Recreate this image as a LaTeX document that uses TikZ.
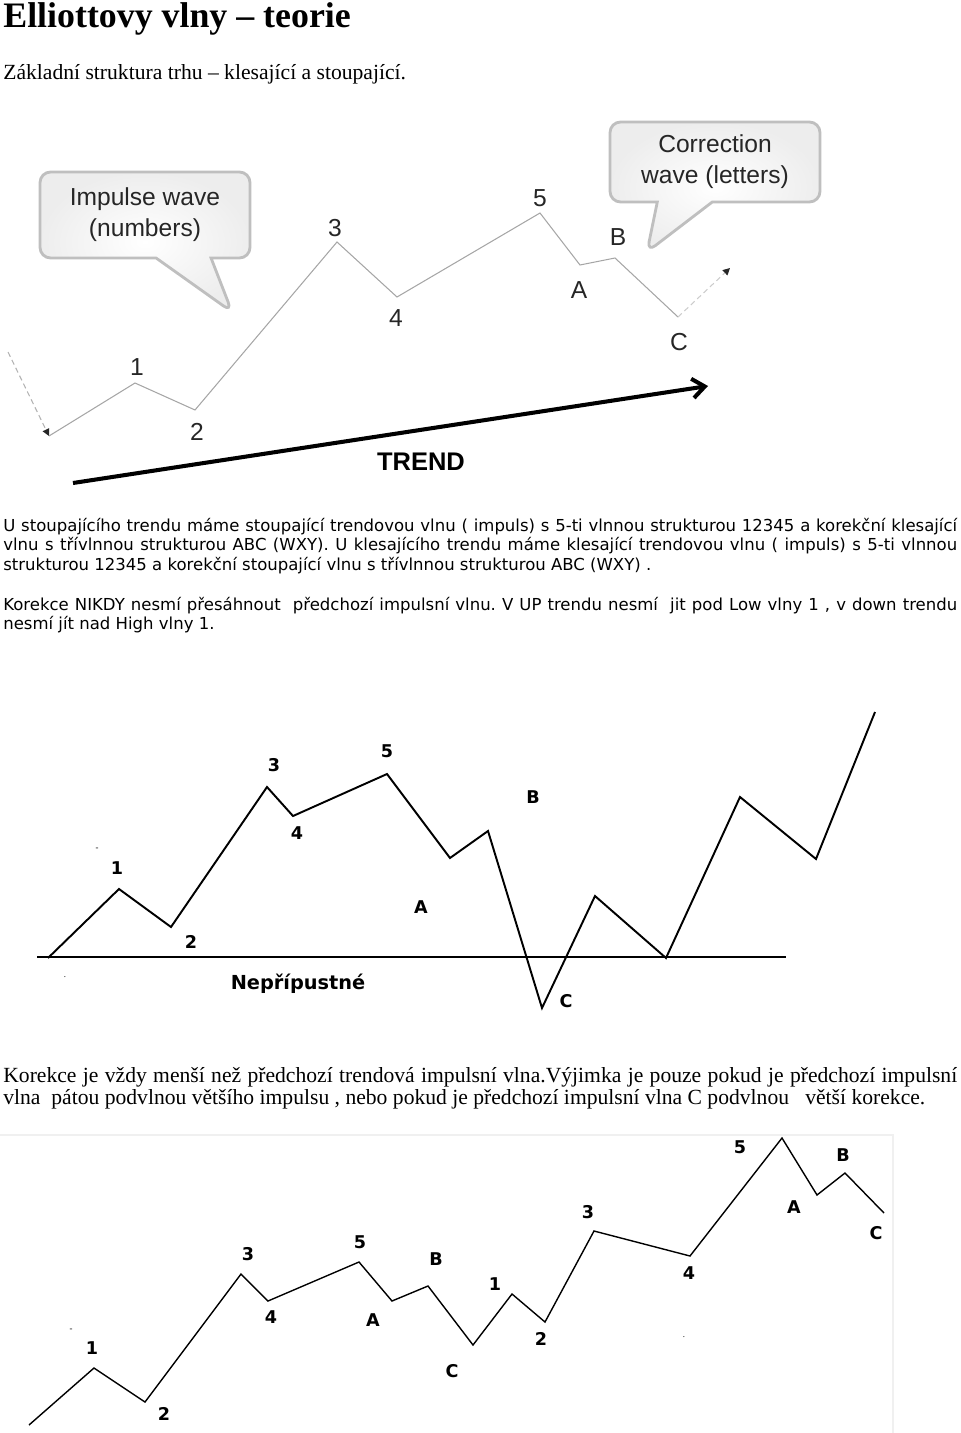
\documentclass[tikz,border=0pt]{standalone}
\usepackage{fontspec}
\setmainfont{Liberation Serif}
\setsansfont{Liberation Sans}
\newfontfamily\chartfont{DejaVu Sans}
\usetikzlibrary{arrows.meta,shapes.callouts,positioning}
\frenchspacing

\begin{document}
\begin{tikzpicture}[
    x=0.02cm, y=-0.02cm,
    every node/.style={inner sep=0pt},
    topwave/.style={gray!70, line width=0.6pt},
    lead/.style={gray!60, line width=0.6pt, dash pattern=on 3pt off 2pt,
      -{Triangle[length=4pt,width=4pt,color=black!85]}},
    toplbl/.style={font=\sffamily\fontsize{14}{16}\selectfont, text=black!85},
    bubble/.style={rectangle callout, rounded corners=6pt, draw=gray!50,
      line width=1.6pt, inner color=white, outer color=gray!14,
      callout pointer width=1.1cm, align=center, text=black!85,
      font=\sffamily\fontsize{14}{17.6}\selectfont,
      minimum width=4.2cm},
    trendarr/.style={line width=2.3pt, -{Straight Barb[length=7pt,width=11pt]}},
    chartwave/.style={line width=1.1pt, line join=miter},
    chartlbl/.style={font=\chartfont\bfseries\fontsize{10}{12}\selectfont},
    bodyserif/.style={font=\fontsize{12.3}{13}\selectfont, text width=19.08cm,
      align=justify, anchor=base west},
    bodysans/.style={font=\chartfont\fontsize{9.4}{11.34}\selectfont,
      text width=19.08cm, align=justify, anchor=base west}
  ]
  \useasboundingbox (0,0) rectangle (960,1433);

  % Heading
  \node[anchor=base west, font=\bfseries\fontsize{20.4}{24}\selectfont]
    (title) at (3,28) {Elliottovy vlny – teorie};
  \node[anchor=base west, font=\fontsize{12.3}{14}\selectfont]
    (subtitle) at (3,80) {Základní struktura trhu – klesající a stoupající.};

  % Top chart: impulse 1-5, correction A-B-C
  \coordinate (s0) at (8,352);
  \coordinate (i0) at (49,436);
  \coordinate (i1) at (135,383);
  \coordinate (i2) at (195,410);
  \coordinate (i3) at (337,242);
  \coordinate (i4) at (397,297);
  \coordinate (i5) at (540,213);
  \coordinate (ia) at (580,265);
  \coordinate (ib) at (615,258);
  \coordinate (ic) at (678,317);
  \coordinate (ie) at (730,268);
  \draw[lead] (s0) -- (i0);
  \draw[topwave] (i0) -- (i1) -- (i2) -- (i3) -- (i4) -- (i5)
    -- (ia) -- (ib) -- (ic);
  \draw[lead, gray!40] (ic) -- (ie);
  \node[toplbl] (t1) at (137,367) {1};
  \node[toplbl] (t2) at (197,432) {2};
  \node[toplbl] (t3) at (335,228) {3};
  \node[toplbl] (t4) at (396,318) {4};
  \node[toplbl] (t5) at (540,198) {5};
  \node[toplbl] (ta) at (579,290) {A};
  \node[toplbl] (tb) at (618,237) {B};
  \node[toplbl] (tc) at (679,342) {C};

  % Callouts
  \node[bubble, minimum height=1.72cm, callout absolute pointer={(232,312)}]
    (impulse) at (145,215) {Impulse wave\\(numbers)};
  \node[bubble, minimum height=1.6cm, callout absolute pointer={(647,252)}]
    (correction) at (715,162) {Correction\\wave (letters)};

  % Trend arrow
  \coordinate (tr0) at (73,483);
  \coordinate (tr1) at (708,386);
  \draw[trendarr] (tr0) -- (tr1);
  \node[font=\sffamily\bfseries\fontsize{14.5}{16}\selectfont]
    (trend) at (421,462) {TREND};

  % Text paragraphs
  \node[bodysans] (para1) at (3,531) {U stoupajícího trendu máme stoupající
    trendovou vlnu ( impuls) s 5-ti vlnnou strukturou 12345 a korekční
    klesající\linebreak vlnu s třívlnnou strukturou ABC (WXY). U klesajícího
    trendu máme klesající trendovou vlnu ( impuls) s 5-ti vlnnou\linebreak
    strukturou 12345 a korekční stoupající vlnu s třívlnnou strukturou ABC
    (WXY) .};
  \node[bodysans] (para2) at (3,610) {Korekce NIKDY nesmí
    přesáhnout\ \ předchozí impulsní vlnu. V UP trendu nesmí\ \ jit pod Low
    vlny 1 , v down trendu\linebreak nesmí jít nad High vlny 1.};

  % Middle chart: forbidden correction below wave 1
  \coordinate (bl0) at (37,957);
  \coordinate (bl1) at (786,957);
  \draw[line width=0.9pt] (bl0) -- (bl1);
  \coordinate (n0) at (48,958);
  \coordinate (n1) at (119,889);
  \coordinate (n2) at (171,927);
  \coordinate (n3) at (267,787);
  \coordinate (n4) at (293,816);
  \coordinate (n5) at (387,774);
  \coordinate (na) at (450,858);
  \coordinate (nb) at (488,831);
  \coordinate (nc) at (542,1008);
  \coordinate (m1) at (595,896);
  \coordinate (m2) at (666,958);
  \coordinate (m3) at (740,797);
  \coordinate (m4) at (816,859);
  \coordinate (m5) at (875,712);
  \draw[chartwave] (n0) -- (n1) -- (n2) -- (n3) -- (n4) -- (n5) -- (na)
    -- (nb) -- (nc) -- (m1) -- (m2) -- (m3) -- (m4) -- (m5);
  \node[chartlbl] (u1) at (117,868) {1};
  \node[chartlbl] (u2) at (191,942) {2};
  \node[chartlbl] (u3) at (274,765) {3};
  \node[chartlbl] (u4) at (297,833) {4};
  \node[chartlbl] (u5) at (387,751) {5};
  \node[chartlbl] (ua) at (421,907) {A};
  \node[chartlbl] (ub) at (533,797) {B};
  \node[chartlbl] (uc) at (566,1001) {C};
  \node[chartlbl, font=\chartfont\bfseries\fontsize{11}{13}\selectfont]
    (forbid) at (298,984) {Nepřípustné};
  \node[font=\tiny] (dash1) at (97,849) {-};
  \node[font=\tiny] (dot1) at (65,977) {.};

  % Lower paragraph
  \node[bodyserif] (para3) at (3,1082) {Korekce je vždy menší než předchozí
    trendová impulsní vlna.Výjimka je pouze pokud je předchozí
    impulsní\linebreak vlna\ \ pátou podvlnou většího impulsu , nebo pokud je
    předchozí impulsní vlna C podvlnou\ \ \ větší korekce.};

  % Bottom chart: nested waves
  \draw[gray!12, line width=0.6pt] (0,1135) -- (893,1135) -- (893,1433);
  \coordinate (p0) at (29,1425);
  \coordinate (p1) at (94,1368);
  \coordinate (p2) at (145,1402);
  \coordinate (p3) at (241,1274);
  \coordinate (p4) at (268,1301);
  \coordinate (p5) at (359,1262);
  \coordinate (pa) at (392,1301);
  \coordinate (pb) at (428,1286);
  \coordinate (pc) at (473,1345);
  \coordinate (q1) at (512,1294);
  \coordinate (q2) at (545,1322);
  \coordinate (q3) at (594,1231);
  \coordinate (q4) at (690,1256);
  \coordinate (q5) at (782,1138);
  \coordinate (qa) at (817,1195);
  \coordinate (qb) at (845,1173);
  \coordinate (qc) at (884,1213);
  \draw[chartwave, line width=0.8pt] (p0) -- (p1) -- (p2) -- (p3) -- (p4)
    -- (p5) -- (pa) -- (pb) -- (pc) -- (q1) -- (q2) -- (q3) -- (q4) -- (q5)
    -- (qa) -- (qb) -- (qc);
  \node[chartlbl] (v1) at (92,1348) {1};
  \node[chartlbl] (v2) at (164,1414) {2};
  \node[chartlbl] (v3) at (248,1254) {3};
  \node[chartlbl] (v4) at (271,1317) {4};
  \node[chartlbl] (v5) at (360,1242) {5};
  \node[chartlbl] (va) at (373,1320) {A};
  \node[chartlbl] (vb) at (436,1259) {B};
  \node[chartlbl] (vc) at (452,1371) {C};
  \node[chartlbl] (w1) at (495,1284) {1};
  \node[chartlbl] (w2) at (541,1339) {2};
  \node[chartlbl] (w3) at (588,1212) {3};
  \node[chartlbl] (w4) at (689,1273) {4};
  \node[chartlbl] (w5) at (740,1147) {5};
  \node[chartlbl] (wa) at (794,1207) {A};
  \node[chartlbl] (wb) at (843,1155) {B};
  \node[chartlbl] (wc) at (876,1233) {C};
  \node[font=\tiny] (dash2) at (71,1330) {-};
  \node[font=\tiny] (dot2) at (684,1337) {.};
\end{tikzpicture}
\end{document}
